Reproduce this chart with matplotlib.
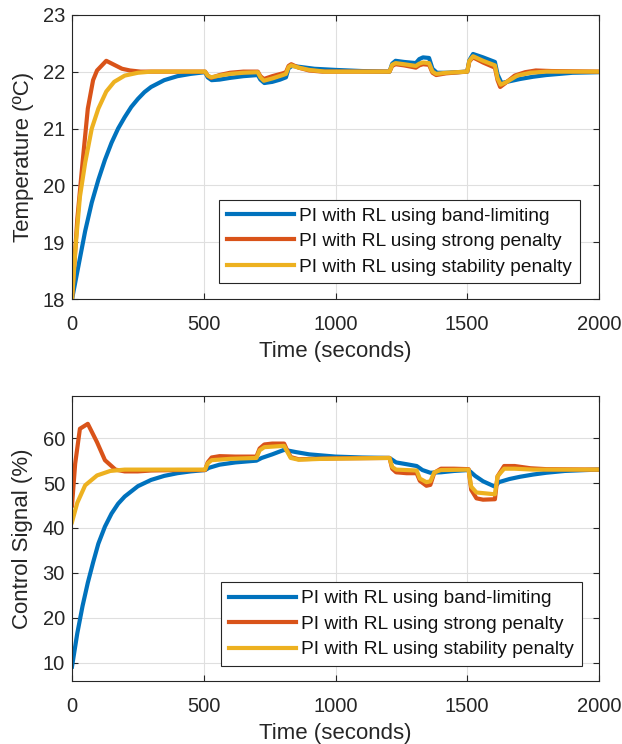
import matplotlib
matplotlib.use("Agg")
import matplotlib.pyplot as plt

plt.rcParams['font.family'] = ['Liberation Sans', 'DejaVu Sans']

labels = ["PI with RL using band-limiting",
          "PI with RL using strong penalty",
          "PI with RL using stability penalty"]
colors = ["#0072BD", "#D95319", "#EDB120"]

# ---- Temperature (top) ----
t_temp_band = [0, 25, 50, 75, 100, 125, 150, 175, 200, 225, 250, 275, 300, 350, 400, 450, 505, 515, 530, 560,
               600, 650, 705, 715, 730, 760, 790, 812, 822, 835, 870, 920, 1000, 1100, 1205, 1215, 1228, 1260,
               1305, 1318, 1332, 1355, 1368, 1385, 1420, 1500, 1508, 1522, 1560, 1605, 1615, 1630, 1660, 1700,
               1750, 1800, 1850, 1900, 2000]
temp_band = [18.0, 18.6, 19.2, 19.7, 20.1, 20.45, 20.75, 21.0, 21.2, 21.38, 21.52, 21.64, 21.73, 21.85, 21.92,
             21.96, 21.99, 21.9, 21.85, 21.86, 21.89, 21.92, 21.94, 21.86, 21.8, 21.82, 21.86, 21.9, 22.06, 22.1,
             22.08, 22.05, 22.03, 22.01, 22.0, 22.14, 22.19, 22.17, 22.15, 22.22, 22.25, 22.24, 22.05, 21.98,
             21.98, 22.0, 22.2, 22.31, 22.25, 22.17, 21.95, 21.8, 21.83, 21.87, 21.91, 21.94, 21.96, 21.98, 21.99]

t_temp_strong = [0, 20, 40, 60, 80, 95, 130, 160, 190, 220, 260, 505, 515, 528, 560, 600, 650, 705, 715, 728,
                 760, 800, 812, 822, 832, 860, 900, 950, 1205, 1215, 1228, 1260, 1305, 1318, 1332, 1355, 1368,
                 1382, 1420, 1500, 1508, 1522, 1560, 1605, 1615, 1625, 1645, 1680, 1720, 1760, 1820, 2000]
temp_strong = [18.0, 19.4, 20.4, 21.35, 21.85, 22.02, 22.19, 22.12, 22.05, 22.02, 22.0, 22.0, 21.93, 21.89,
               21.94, 21.98, 22.0, 22.0, 21.92, 21.87, 21.92, 21.97, 21.99, 22.1, 22.13, 22.07, 22.02, 22.0,
               22.0, 22.1, 22.13, 22.11, 22.07, 22.11, 22.13, 22.12, 21.98, 21.94, 21.97, 22.0, 22.18, 22.25,
               22.16, 22.07, 21.85, 21.73, 21.8, 21.93, 21.99, 22.02, 22.01, 22.0]

t_temp_stab = [0, 15, 30, 50, 75, 100, 130, 160, 200, 250, 300, 505, 515, 528, 560, 600, 650, 705, 715, 728,
               760, 800, 812, 822, 832, 860, 900, 960, 1205, 1215, 1228, 1260, 1305, 1318, 1332, 1355, 1368,
               1382, 1420, 1500, 1508, 1522, 1560, 1605, 1615, 1627, 1650, 1690, 1740, 1800, 2000]
temp_stab = [18.0, 19.0, 19.8, 20.4, 21.0, 21.35, 21.65, 21.82, 21.93, 21.98, 22.0, 22.0, 21.93, 21.9, 21.93,
             21.96, 21.98, 21.99, 21.9, 21.84, 21.88, 21.94, 21.96, 22.08, 22.11, 22.07, 22.03, 22.0, 22.0,
             22.12, 22.15, 22.13, 22.1, 22.14, 22.16, 22.15, 22.0, 21.96, 21.98, 22.0, 22.19, 22.27, 22.19,
             22.11, 21.88, 21.77, 21.82, 21.93, 21.98, 22.0, 22.0]

# ---- Control signal (bottom) ----
t_ctrl_band = [0, 20, 40, 60, 80, 100, 125, 150, 175, 200, 250, 300, 350, 400, 450, 505, 520, 560, 620, 700,
               720, 760, 805, 815, 850, 900, 1000, 1100, 1205, 1230, 1270, 1308, 1330, 1360, 1400, 1450, 1505,
               1530, 1560, 1605, 1620, 1660, 1700, 1750, 1800, 1870, 1950, 2000]
ctrl_band = [9.1, 16.5, 22.6, 27.8, 32.3, 36.5, 40.3, 43.2, 45.4, 47.0, 49.3, 50.7, 51.6, 52.2, 52.6, 52.9,
             53.4, 54.1, 54.6, 55.0, 55.6, 56.4, 57.4, 57.3, 56.9, 56.4, 55.9, 55.7, 55.6, 54.6, 54.2, 53.8,
             52.9, 52.3, 52.4, 52.7, 52.9, 51.6, 50.4, 49.2, 50.2, 50.9, 51.4, 51.9, 52.3, 52.7, 52.9, 53.0]

t_ctrl_strong = [0, 12, 30, 60, 95, 125, 165, 200, 250, 300, 400, 505, 515, 530, 560, 620, 700, 712, 730, 760,
                 805, 815, 830, 860, 920, 1000, 1205, 1215, 1230, 1270, 1308, 1320, 1345, 1360, 1375, 1400,
                 1450, 1505, 1515, 1535, 1560, 1605, 1615, 1640, 1680, 1740, 1800, 2000]
ctrl_strong = [45.0, 54.3, 62.1, 63.2, 59.1, 55.1, 53.0, 52.6, 52.6, 52.8, 52.9, 52.9, 54.6, 55.7, 56.0, 55.9,
               55.9, 57.7, 58.6, 58.8, 58.8, 57.5, 55.8, 55.3, 55.4, 55.5, 55.6, 53.2, 52.4, 52.2, 52.2, 50.5,
               49.4, 49.6, 52.3, 53.2, 53.2, 53.1, 48.5, 46.6, 46.3, 46.4, 51.5, 53.8, 53.8, 53.3, 53.1, 53.0]

t_ctrl_stab = [0, 20, 50, 95, 145, 200, 505, 515, 530, 600, 700, 712, 730, 805, 815, 830, 860, 950, 1205,
               1215, 1230, 1308, 1320, 1345, 1360, 1375, 1400, 1505, 1515, 1535, 1605, 1615, 1640, 1680, 1750, 2000]
ctrl_stab = [41.3, 45.6, 49.5, 51.7, 52.7, 53.0, 53.0, 54.4, 55.1, 55.4, 55.6, 57.3, 58.0, 58.3, 57.2, 55.6,
             55.2, 55.4, 55.6, 53.6, 53.0, 52.8, 51.0, 50.2, 50.4, 52.4, 52.9, 53.0, 49.2, 47.9, 47.5, 51.5,
             53.2, 53.2, 53.0, 53.0]

x_ticks = [0, 500, 1000, 1500, 2000]
temp_ticks = [18, 19, 20, 21, 22, 23]
ctrl_ticks = [10, 20, 30, 40, 50, 60]

W, H = 622, 744
fig = plt.figure(figsize=(W / 100, H / 100), dpi=100)
left, right = 72, 599
ax1 = fig.add_axes([left / W, 1 - 299.3 / H, (right - left) / W, (299.3 - 14.7) / H])
ax2 = fig.add_axes([left / W, 1 - 681 / H, (right - left) / W, (681 - 396) / H])

dark = "#262626"
lw = 3.0

def style(ax):
    ax.grid(True, color="#DFDFDF", linewidth=0.8)
    ax.set_axisbelow(True)
    ax.tick_params(direction="in", length=4, width=0.8, top=True, right=True,
                   labelsize=14.5, colors=dark)
    ax.tick_params(axis="x", pad=11.5)
    ax.tick_params(axis="y", pad=5)
    for s in ax.spines.values():
        s.set_color(dark)
        s.set_linewidth(0.8)
    ax.set_xlim(0, 2000)
    ax.set_xticks(x_ticks)
    ax.set_xlabel("Time (seconds)", fontsize=16, color=dark, labelpad=5)

series_top = [(t_temp_band, temp_band), (t_temp_strong, temp_strong), (t_temp_stab, temp_stab)]
for (t, v), c, lab in zip(series_top, colors, labels):
    ax1.plot(t, v, color=c, lw=lw, label=lab, solid_joinstyle="round")
style(ax1)
ax1.set_ylim(18, 23)
ax1.set_yticks(temp_ticks)
ax1.set_ylabel("Temperature (ºC)", fontsize=16, color=dark, labelpad=6)

series_bot = [(t_ctrl_band, ctrl_band), (t_ctrl_strong, ctrl_strong), (t_ctrl_stab, ctrl_stab)]
for (t, v), c, lab in zip(series_bot, colors, labels):
    ax2.plot(t, v, color=c, lw=lw, label=lab, solid_joinstyle="round")
style(ax2)
ax2.set_ylim(5.9, 69.4)
ax2.set_yticks(ctrl_ticks)
ax2.set_ylabel("Control Signal (%)", fontsize=16, color=dark, labelpad=7)

for ax, bx, by in [(ax1, (580 - left) / (right - left), (299.3 - 283.3) / 284.6),
                   (ax2, (582 - left) / (right - left), (681 - 666) / 285)]:
    leg = ax.legend(loc="lower right", bbox_to_anchor=(bx, by), borderaxespad=0,
                    fontsize=13.8, frameon=True, fancybox=False, framealpha=1,
                    edgecolor=dark, handlelength=3.5, handletextpad=0.3,
                    labelspacing=0.42, borderpad=0.4)
    leg.get_frame().set_linewidth(0.8)
    for txt in leg.get_texts():
        txt.set_color("#111111")

fig.savefig("out.png", dpi=100)
